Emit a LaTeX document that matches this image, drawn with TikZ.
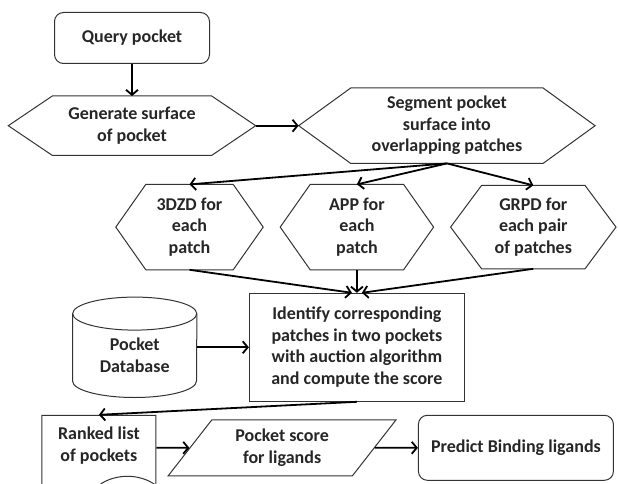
\documentclass[tikz,border=0pt]{standalone}
\usepackage{fontspec}
\setmainfont{Carlito}
\usetikzlibrary{shapes,arrows.meta,positioning}

% hexagon outline drawn around a plain node
\newcommand{\hexagonof}[2]{%
	\draw[outline] (#1.west) -- ([xshift=#2]#1.north west) -- ([xshift=-#2]#1.north east)
		-- (#1.east) -- ([xshift=-#2]#1.south east) -- ([xshift=#2]#1.south west) -- cycle;}
% cylinder outline drawn around a plain node (half width, cap radius)
\newcommand{\cylinderof}[3]{%
	\draw[outline] ([yshift=-#3]#1.north west) -- ([yshift=#3]#1.south west)
		arc[start angle=180, end angle=360, x radius=#2, y radius=#3]
		-- ([yshift=-#3]#1.north east);
	\draw[outline] ([yshift=-#3]#1.north) ellipse[x radius=#2, y radius=#3];}

\begin{document}
\begin{tikzpicture}[
	font=\fontsize{18}{21.5}\selectfont\bfseries,
		text=black!85,
		node distance=20pt,
		box/.style={
			rectangle,
			draw=black!80,
			line width=1pt,
			inner sep=0pt,
			align=center
		},
		roundbox/.style={
			box,
			rounded corners=9pt
		},
		hexbox/.style={
			rectangle,
			inner sep=0pt,
			align=center
		},
		outline/.style={
			draw=black!80,
			line width=1pt
		},
		listdoc/.style={
			tape,
			tape bend top=none,
			tape bend height=18pt,
			draw=black!80,
			line width=1pt,
			inner sep=0pt,
			align=center
		},
		io/.style={
			trapezium,
			trapezium left angle=52,
			trapezium right angle=128,
			draw=black!80,
			line width=1pt,
			inner sep=0pt,
			align=center
		},
		arrow/.style={
			-{Straight Barb[length=5pt,width=12pt]},
			line width=1.8pt
		}
	]
	\useasboundingbox (0,0) rectangle (618pt,-484pt);
	% Query and surface
	\node[roundbox, minimum width=155pt, minimum height=51pt] (query) at (132pt,-38pt) {Query pocket};
	\node[hexbox, minimum width=247pt, minimum height=59pt, below=32pt of query] (gen) {Generate surface\\of pocket};
	\node[hexbox, minimum width=296pt, minimum height=75pt, right=43pt of gen] (seg) {Segment pocket\\surface into\\overlapping patches};
	% Patch descriptors
	\node[hexbox, minimum width=153pt, minimum height=85pt, below=21pt of seg, xshift=-90pt] (app) {APP for\\each\\patch};
	\node[hexbox, minimum width=147pt, minimum height=85pt, left=17pt of app] (zd) {3DZD for\\each\\patch};
	\node[hexbox, minimum width=165pt, minimum height=83pt, right=17pt of app] (grpd) {GRPD for\\each pair\\of patches};
	\hexagonof{gen}{44pt}
	\hexagonof{seg}{52pt}
	\hexagonof{zd}{30pt}
	\hexagonof{app}{30pt}
	\hexagonof{grpd}{31pt}
	% Matching against the database
	\node[box, minimum width=215pt, minimum height=108pt, below=23pt of app] (match) {Identify corresponding\\patches in two pockets\\with auction algorithm\\and compute the score};
	\node[hexbox, minimum width=124pt, minimum height=100pt, left=52pt of match] (pdb)
		{\raisebox{-14pt}[0pt][0pt]{\begin{tabular}{@{}c@{}}Pocket\\Database\end{tabular}}};
	\cylinderof{pdb}{62pt}{16.5pt}
	% Results
	\node[listdoc, minimum width=114pt, minimum height=79pt, below=13pt of match, xshift=-258pt] (ranked) {Ranked list\\of pockets};
	\node[io, minimum width=208pt, minimum height=56pt, right=33pt of ranked, yshift=-2pt] (score) {Pocket score\\for ligands};
	\node[roundbox, minimum width=195pt, minimum height=65pt, right=43pt of score] (predict) {Predict Binding ligands};

	% Connections
	\draw[arrow] (query) -- (gen);
	\draw[arrow] (gen) -- (seg);
	\draw[arrow] (seg.south) -- (zd.north);
	\draw[arrow] (seg.south) -- (app.north);
	\draw[arrow] (seg.south) -- (grpd.north);
	\draw[arrow] (zd.south) -- ([xshift=-5pt]match.north);
	\draw[arrow] (app.south) -- (match.north);
	\draw[arrow] (grpd.south) -- ([xshift=5pt]match.north);
	\draw[arrow] (pdb) -- (match);
	\draw[arrow] (match.south) -- (ranked.north);
	\draw[arrow] (score.west -| ranked.east) -- (score);
	\draw[arrow] (score) -- (predict);
\end{tikzpicture}
\end{document}
